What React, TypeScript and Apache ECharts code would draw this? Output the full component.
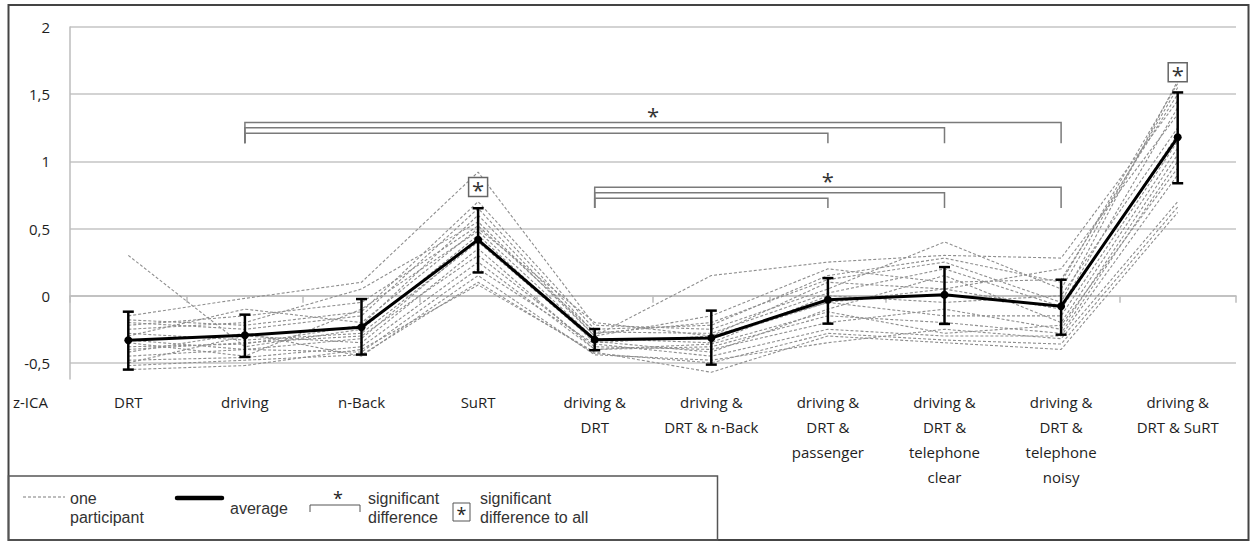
import React, { useEffect, useRef } from 'react';
import * as echarts from 'echarts';

const categories = [
  'DRT',
  'driving',
  'n-Back',
  'SuRT',
  'driving &\nDRT',
  'driving &\nDRT & n-Back',
  'driving &\nDRT &\npassenger',
  'driving &\nDRT &\ntelephone\nclear',
  'driving &\nDRT &\ntelephone\nnoisy',
  'driving &\nDRT & SuRT',
];

const average = [-0.332, -0.295, -0.235, 0.416, -0.327, -0.315, -0.03, 0.007, -0.079, 1.179];
const errLow = [-0.55, -0.456, -0.438, 0.173, -0.406, -0.513, -0.208, -0.21, -0.29, 0.837];
const errHigh = [-0.119, -0.141, -0.025, 0.651, -0.248, -0.111, 0.131, 0.213, 0.119, 1.513];

const participants = [
  [0.3, -0.38, -0.25, 0.45, -0.35, -0.3, -0.05, 0.05, -0.1, 1.2],
  [-0.15, -0.02, 0.1, 0.92, -0.22, -0.25, 0.05, 0.4, 0.05, 1.55],
  [-0.55, -0.52, -0.4, 0.08, -0.42, -0.57, -0.3, -0.35, -0.4, 0.62],
  [-0.25, -0.2, 0.05, 0.55, -0.3, 0.15, 0.25, 0.3, 0.28, 1.45],
  [-0.4, -0.35, -0.3, 0.3, -0.38, -0.4, -0.2, -0.1, -0.25, 1.05],
  [-0.2, -0.25, -0.15, 0.65, -0.28, -0.2, 0.12, 0.25, -0.05, 1.6],
  [-0.45, -0.4, -0.42, 0.2, -0.36, -0.45, -0.25, -0.3, -0.3, 0.9],
  [-0.3, -0.1, -0.2, 0.5, -0.2, -0.3, 0.1, 0.05, 0.2, 1.35],
  [-0.5, -0.3, -0.35, 0.35, -0.4, -0.38, -0.15, -0.2, -0.28, 1.0],
  [-0.35, -0.45, -0.1, 0.48, -0.32, -0.35, 0.0, -0.05, 0.0, 1.25],
  [-0.28, -0.33, -0.28, 0.4, -0.34, -0.42, -0.1, 0.15, -0.2, 1.1],
  [-0.42, -0.28, -0.45, 0.15, -0.44, -0.48, -0.35, -0.25, -0.32, 0.7],
  [-0.38, -0.36, -0.22, 0.6, -0.3, -0.15, 0.2, 0.1, 0.12, 1.5],
  [-0.33, -0.4, -0.32, 0.42, -0.33, -0.32, -0.05, -0.15, -0.15, 1.15],
  [-0.22, -0.15, -0.05, 0.52, -0.27, -0.28, 0.02, 0.2, -0.08, 1.4],
  [-0.48, -0.46, -0.38, 0.25, -0.4, -0.36, -0.12, -0.28, -0.22, 0.95],
  [-0.18, -0.22, -0.12, 0.7, -0.25, -0.22, 0.15, 0.28, 0.1, 1.58],
  [-0.52, -0.48, -0.44, 0.1, -0.43, -0.5, -0.28, -0.33, -0.36, 0.66],
];

// [fromIndex, toIndex, lineY, bottomY]
const brackets = [
  [1, 8, 1.29, 1.134],
  [1, 7, 1.25, 1.134],
  [1, 6, 1.209, 1.134],
  [4, 8, 0.808, 0.652],
  [4, 7, 0.767, 0.652],
  [4, 6, 0.726, 0.652],
];
// [fromIndex, toIndex, y]
const bracketStars = [
  [1, 8, 1.36],
  [4, 8, 0.876],
];
// [index, y]
const boxedStars = [
  [3, 0.81],
  [9, 1.664],
];

const AXIS_FONT = "'Open Sans', sans-serif";
const LEGEND_FONT = "'Liberation Sans', Arial, sans-serif";

export default function App() {
  const ref = useRef<HTMLDivElement>(null);

  useEffect(() => {
    if (!ref.current) return;
    const chart = echarts.init(ref.current, undefined, { renderer: 'svg' });

    const participantSeries = participants.map((p, i) => ({
      type: 'line',
      name: 'p' + i,
      data: p,
      symbol: 'none',
      silent: true,
      z: 2,
      lineStyle: { color: '#8e8e8e', width: 1.1, type: [3, 2] },
    }));

    const legendText = (x: number, y: number, text: string) => ({
      type: 'text',
      x,
      y,
      style: { text, fontFamily: LEGEND_FONT, fontSize: 16, fill: '#333', verticalAlign: 'middle', align: 'left' },
    });

    const option: any = {
      animation: false,
      grid: { left: 70, right: 14, top: 27, bottom: 163 },
      xAxis: [
        {
          type: 'category',
          data: categories,
          position: 'bottom',
          axisLine: { show: true, onZero: true, lineStyle: { color: '#bdbdbd', width: 1.5 } },
          axisTick: { show: true, length: 7, lineStyle: { color: '#bdbdbd', width: 1.5 } },
          axisLabel: { show: false },
          splitLine: { show: false },
        },
        {
          type: 'category',
          data: categories,
          position: 'bottom',
          axisLine: { show: false, onZero: false },
          axisTick: { show: false },
          axisLabel: {
            show: true,
            interval: 0,
            margin: 10,
            lineHeight: 25,
            fontSize: 15,
            fontFamily: AXIS_FONT,
            color: '#1e1e1e',
          },
          splitLine: { show: false },
        },
      ],
      yAxis: {
        type: 'value',
        min: -0.62,
        max: 2,
        splitNumber: 5,
        axisLine: { show: true, lineStyle: { color: '#bdbdbd', width: 1.5 } },
        axisTick: { show: false },
        splitLine: { show: true, showMinLine: false, lineStyle: { color: '#c4c4c4', width: 1.5 } },
        axisLabel: {
          showMinLabel: false,
          margin: 20,
          fontSize: 15,
          fontFamily: AXIS_FONT,
          color: '#1e1e1e',
          formatter: (v: number) => String(v).replace('.', ','),
        },
      },
      series: [
        ...participantSeries,
        {
          type: 'custom',
          name: 'brackets',
          silent: true,
          z: 3,
          data: brackets,
          renderItem: (params: any, api: any) => {
            const a = api.value(0), b = api.value(1), y = api.value(2), yb = api.value(3);
            const p1 = api.coord([a, yb]);
            const p2 = api.coord([a, y]);
            const p3 = api.coord([b, y]);
            const p4 = api.coord([b, yb]);
            return {
              type: 'polyline',
              shape: { points: [p1, p2, p3, p4] },
              style: { stroke: '#7a7a7a', lineWidth: 1.5, fill: 'none' },
            };
          },
        },
        {
          type: 'custom',
          name: 'stars',
          silent: true,
          z: 3,
          data: bracketStars,
          renderItem: (params: any, api: any) => {
            const a = api.coord([api.value(0), api.value(2)]);
            const b = api.coord([api.value(1), api.value(2)]);
            return {
              type: 'text',
              x: (a[0] + b[0]) / 2,
              y: a[1] - 9,
              style: {
                text: '*',
                fontFamily: AXIS_FONT,
                fontSize: 22,
                fill: '#333',
                align: 'center',
                verticalAlign: 'top',
              },
            };
          },
        },
        {
          type: 'custom',
          name: 'errorbars',
          silent: true,
          z: 5,
          data: average.map((_, i) => [i, errLow[i], errHigh[i]]),
          renderItem: (params: any, api: any) => {
            const lo = api.coord([api.value(0), api.value(1)]);
            const hi = api.coord([api.value(0), api.value(2)]);
            const w = 5.5;
            const st = { stroke: '#000', lineWidth: 2.5 };
            return {
              type: 'group',
              children: [
                { type: 'line', shape: { x1: lo[0], y1: lo[1], x2: hi[0], y2: hi[1] }, style: st },
                { type: 'line', shape: { x1: lo[0] - w, y1: lo[1], x2: lo[0] + w, y2: lo[1] }, style: st },
                { type: 'line', shape: { x1: hi[0] - w, y1: hi[1], x2: hi[0] + w, y2: hi[1] }, style: st },
              ],
            };
          },
        },
        {
          type: 'line',
          name: 'average',
          data: average,
          z: 6,
          symbol: 'circle',
          symbolSize: 8,
          itemStyle: { color: '#000' },
          lineStyle: { color: '#000', width: 3 },
        },
        {
          type: 'custom',
          name: 'boxedStars',
          silent: true,
          z: 7,
          data: boxedStars,
          renderItem: (params: any, api: any) => {
            const c = api.coord([api.value(0), api.value(1)]);
            const s = 19;
            return {
              type: 'group',
              children: [
                {
                  type: 'rect',
                  shape: { x: c[0] - s / 2, y: c[1] - s / 2, width: s, height: s },
                  style: { fill: '#fff', stroke: '#666', lineWidth: 1.5 },
                },
                {
                  type: 'text',
                  x: c[0],
                  y: c[1] - 9,
                  style: {
                    text: '*',
                    fontFamily: AXIS_FONT,
                    fontSize: 22,
                    fill: '#333',
                    align: 'center',
                    verticalAlign: 'top',
                  },
                },
              ],
            };
          },
        },
      ],
      graphic: [
        {
          type: 'rect',
          shape: { x: 8.5, y: 5, width: 1240, height: 535 },
          style: { fill: 'none', stroke: '#444', lineWidth: 2 },
          silent: true,
        },
        {
          type: 'text',
          x: 13,
          y: 402,
          style: { text: 'z-ICA', fontFamily: AXIS_FONT, fontSize: 15, fill: '#1e1e1e', verticalAlign: 'middle' },
        },
        {
          type: 'rect',
          shape: { x: 8.5, y: 476, width: 709, height: 64 },
          style: { fill: 'none', stroke: '#555', lineWidth: 1.5 },
          silent: true,
        },
        {
          type: 'line',
          shape: { x1: 23, y1: 497, x2: 65, y2: 497 },
          style: { stroke: '#a8a8a8', lineWidth: 1.5, lineDash: [3, 2] },
        },
        legendText(70, 498, 'one'),
        legendText(70, 517, 'participant'),
        {
          type: 'line',
          shape: { x1: 177, y1: 498, x2: 222, y2: 498 },
          style: { stroke: '#000', lineWidth: 4.5, lineCap: 'round' },
        },
        legendText(230, 508, 'average'),
        {
          type: 'polyline',
          shape: { points: [[310, 512], [310, 505], [360, 505], [360, 512]] },
          style: { stroke: '#555', lineWidth: 1, fill: 'none' },
        },
        {
          type: 'text',
          x: 338,
          y: 489,
          style: { text: '*', fontFamily: AXIS_FONT, fontSize: 18, fill: '#222', align: 'center', verticalAlign: 'top' },
        },
        legendText(368, 498, 'significant'),
        legendText(368, 517, 'difference'),
        {
          type: 'rect',
          shape: { x: 453, y: 503, width: 17, height: 18 },
          style: { fill: '#fff', stroke: '#555', lineWidth: 1 },
        },
        {
          type: 'text',
          x: 461.5,
          y: 505,
          style: { text: '*', fontFamily: AXIS_FONT, fontSize: 18, fill: '#222', align: 'center', verticalAlign: 'top' },
        },
        legendText(480, 498, 'significant'),
        legendText(480, 517, 'difference to all'),
      ],
    };

    chart.setOption(option);
    return () => chart.dispose();
  }, []);

  return (
    <div
      ref={ref}
      style={{ position: 'absolute', left: 0, top: 0, width: 1250, height: 542, background: '#fff' }}
    />
  );
}
